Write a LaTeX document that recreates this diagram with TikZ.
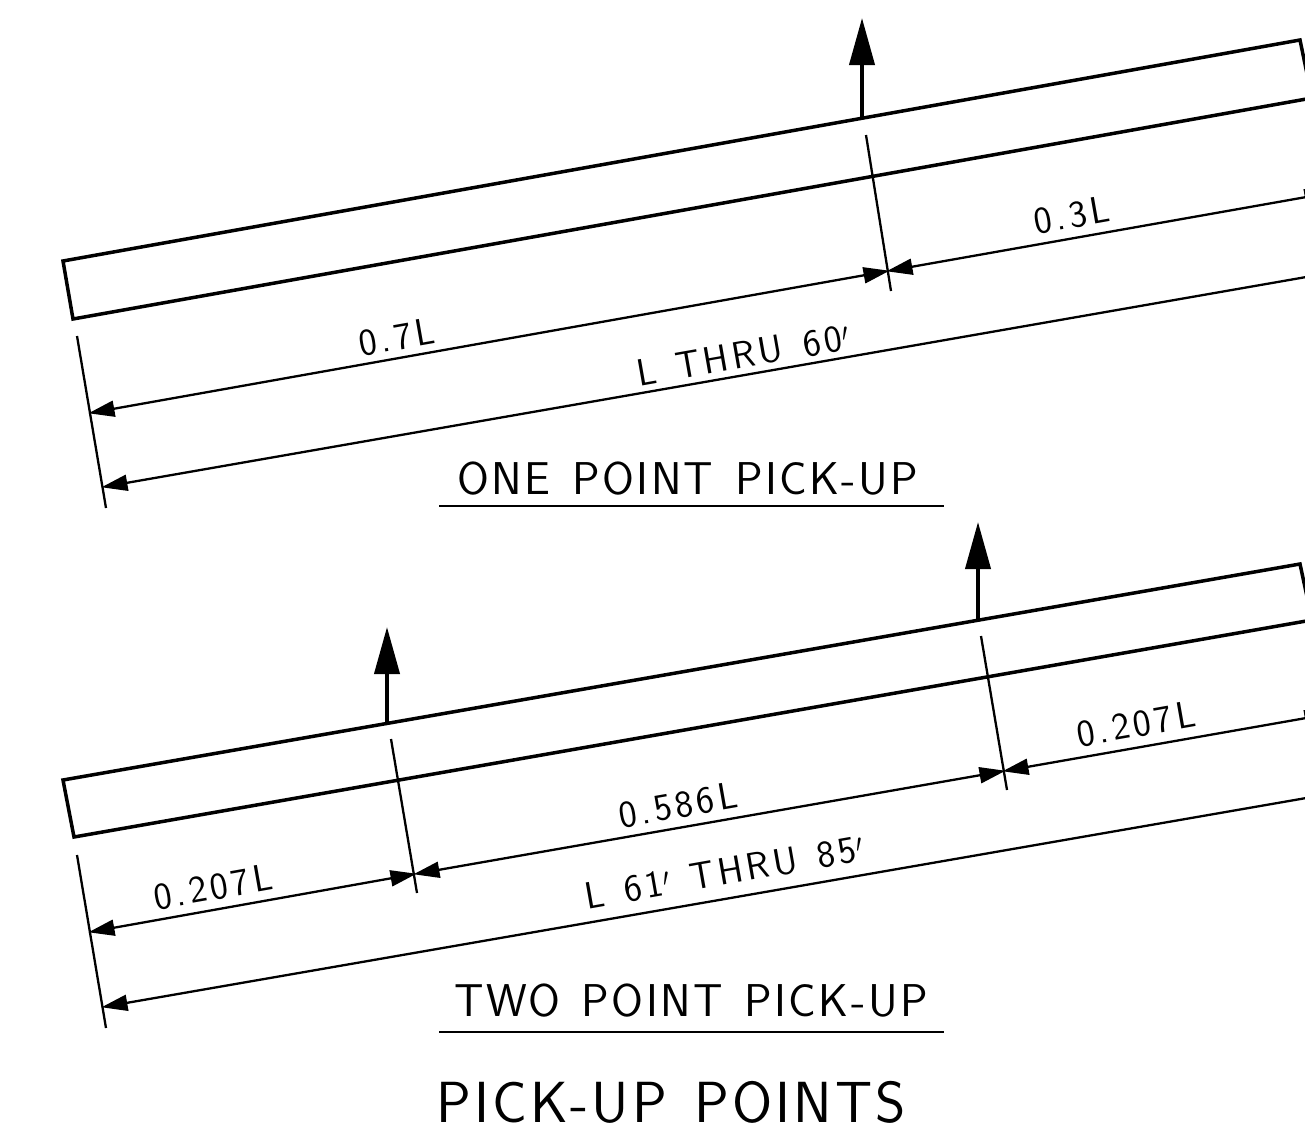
\documentclass[tikz,border=0pt]{standalone}
\usepackage{fontspec}
\newfontfamily\cadfont[LetterSpace=5.2,WordSpace=1.3]{Latin Modern Sans}
\newfontfamily\dimfont[LetterSpace=10,WordSpace=1.3]{Latin Modern Sans}
\usetikzlibrary{arrows.meta}
\tikzset{
beam/.style={line width=3.5pt,line join=miter},
lift/.style={line width=4pt,-{Triangle[length=47pt,width=25pt]}},
ext/.style={line width=2.3pt},
dim/.style={line width=2.3pt,shorten <=-1.5pt,shorten >=-1.5pt,{Triangle[length=26pt,width=16pt]}-{Triangle[length=26pt,width=16pt]}},
dimfree/.style={line width=2.3pt,shorten <=-1.5pt,{Triangle[length=26pt,width=16pt]}-},
rule/.style={line width=2.3pt},
small/.style={font=\dimfont\fontsize{38}{38}\selectfont,rotate=10,inner sep=0pt},
title/.style={font=\cadfont\fontsize{46}{46}\selectfont,inner sep=0pt},
big/.style={font=\cadfont\fontsize{58}{58}\selectfont,inner sep=0pt}
}
\begin{document}
\begin{tikzpicture}[x=1pt,y=-1pt]
\clip (0,0) rectangle (1305,1132);
% one point
\coordinate (a1) at (63,261);
\coordinate (a2) at (1300,40);
\coordinate (a3) at (1312,98);
\coordinate (a4) at (73,319);
\coordinate (l1a) at (862,117);
\coordinate (l1b) at (862,18);
\coordinate (e1a) at (77,336);
\coordinate (e1b) at (106,508);
\coordinate (e2a) at (866,135);
\coordinate (e2b) at (891,291);
\coordinate (d1) at (90,413);
\coordinate (d2) at (888,271);
\coordinate (d3) at (1329,193);
\coordinate (d4) at (103,487);
\coordinate (d5) at (1312,276);
\coordinate (r1a) at (439,506);
\coordinate (r1b) at (944,506);

\draw[beam] (a1) -- (a2) -- (a3) -- (a4) -- cycle;
\draw[lift] (l1a) -- (l1b);
\draw[ext] (e1a) -- (e1b);
\draw[ext] (e2a) -- (e2b);
\draw[dim] (d1) -- (d2);
\draw[dim] (d2) -- (d3);
\draw[dimfree] (d4) -- (d5);
\draw[rule] (r1a) -- (r1b);

\node[small] (t1) at (397,337) {0.7L};
\node[small] (t2) at (1072,215) {0.3L};
\node[small] (t3) at (743,355) {L THRU 60$'$};
\node[title] (t4) at (688,479) {ONE POINT PICK-UP};

% two point
\coordinate (b1) at (63,780);
\coordinate (b2) at (1300,564);
\coordinate (b3) at (1312,620);
\coordinate (b4) at (74,837);
\coordinate (l2a) at (387,722);
\coordinate (l2b) at (387,627);
\coordinate (l3a) at (978,620);
\coordinate (l3b) at (978,522);
\coordinate (e3a) at (77,855);
\coordinate (e3b) at (106,1028);
\coordinate (e4a) at (391,739);
\coordinate (e4b) at (417,893);
\coordinate (e5a) at (981,636);
\coordinate (e5b) at (1007,790);
\coordinate (f1) at (90,932);
\coordinate (f2) at (415,874);
\coordinate (f3) at (1004,771);
\coordinate (f4) at (1329,714);
\coordinate (f5) at (103,1007);
\coordinate (f6) at (1312,797);
\coordinate (r2a) at (439,1032);
\coordinate (r2b) at (944,1032);

\draw[beam] (b1) -- (b2) -- (b3) -- (b4) -- cycle;
\draw[lift] (l2a) -- (l2b);
\draw[lift] (l3a) -- (l3b);
\draw[ext] (e3a) -- (e3b);
\draw[ext] (e4a) -- (e4b);
\draw[ext] (e5a) -- (e5b);
\draw[dim] (f1) -- (f2);
\draw[dim] (f2) -- (f3);
\draw[dim] (f3) -- (f4);
\draw[dimfree] (f5) -- (f6);
\draw[rule] (r2a) -- (r2b);

\node[small] (t5) at (213,887) {0.207L};
\node[small] (t6) at (678,805) {0.586L};
\node[small] (t7) at (1136,724) {0.207L};
\node[small] (t8) at (724,872) {L 61$'$ THRU 85$'$};
\node[title] (t9) at (691,1001) {TWO POINT PICK-UP};
\node[big] (t10) at (671,1102) {PICK-UP POINTS};
\end{tikzpicture}
\end{document}
